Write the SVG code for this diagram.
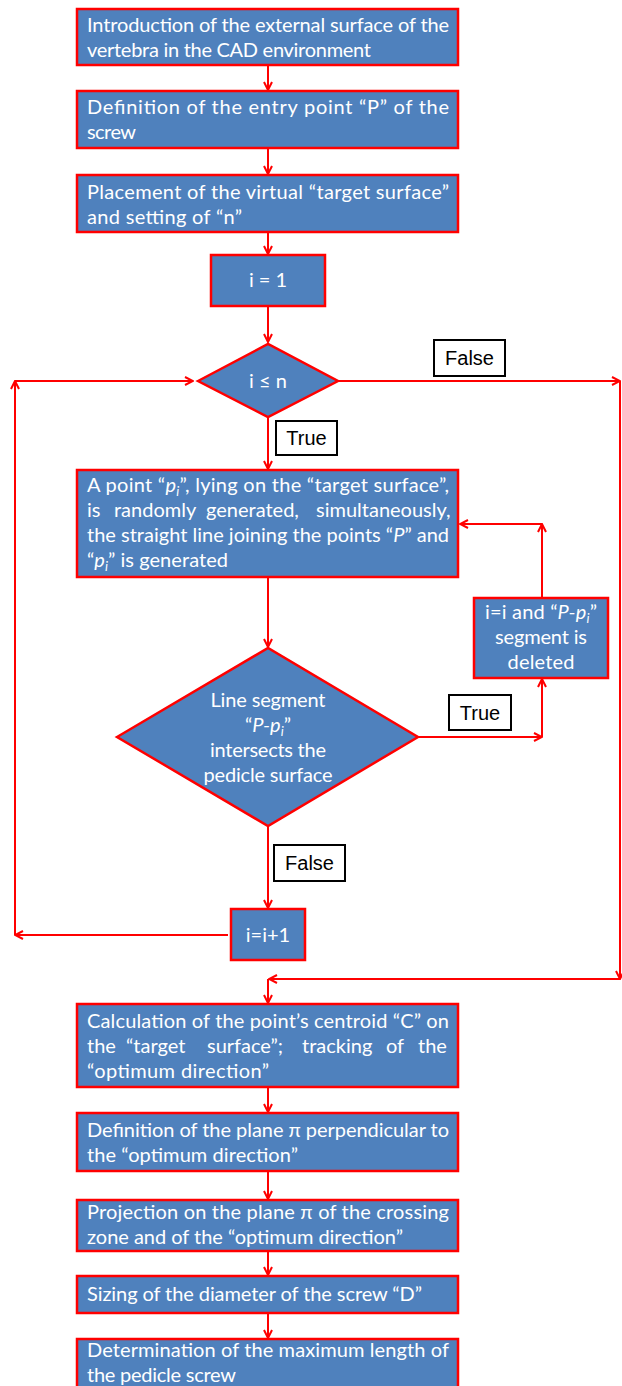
<svg xmlns="http://www.w3.org/2000/svg" width="622" height="1386" viewBox="0 0 622 1386">
<style>
.box{fill:#4F81BD;stroke:#FF0000;stroke-width:2.5}
.lbl{fill:#FFFFFF;stroke:#000000;stroke-width:2}
.t{font-family:Lato,"Liberation Sans",sans-serif;font-size:20px;fill:#FFFFFF}
.c{text-anchor:middle}
.l{font-family:"Liberation Sans",Arial,sans-serif;font-size:20px;fill:#000000;text-anchor:middle}
.con{fill:none;stroke:#FF0000;stroke-width:2}
.it{font-style:italic}
.sub{font-size:13px}
</style>
<defs>
<marker id="ah" viewBox="0 0 10 10" refX="9" refY="5" markerWidth="10" markerHeight="10" markerUnits="userSpaceOnUse" orient="auto">
<path d="M1,1 L9,5 L1,9" fill="none" stroke="#FF0000" stroke-width="2"/>
</marker>
</defs>
<g id="connectors">
<path class="con" d="M268,65 V90" marker-end="url(#ah)"/>
<path class="con" d="M268,148 V174" marker-end="url(#ah)"/>
<path class="con" d="M268,232 V254" marker-end="url(#ah)"/>
<path class="con" d="M268,306 V342" marker-end="url(#ah)"/>
<path class="con" d="M268,417 V469" marker-end="url(#ah)"/>
<path class="con" d="M338,381 H620" marker-end="url(#ah)"/>
<path class="con" d="M620,381 V979" marker-end="url(#ah)"/>
<path class="con" d="M620,979 H269" marker-end="url(#ah)"/>
<path class="con" d="M268,979 V1003" marker-end="url(#ah)"/>
<path class="con" d="M268,577 V647" marker-end="url(#ah)"/>
<path class="con" d="M418,737 H542" marker-end="url(#ah)"/>
<path class="con" d="M542,737 V679" marker-end="url(#ah)"/>
<path class="con" d="M542,598 V524" marker-end="url(#ah)"/>
<path class="con" d="M542,524 H460" marker-end="url(#ah)"/>
<path class="con" d="M268,826 V908" marker-end="url(#ah)"/>
<path class="con" d="M228,935 H15" marker-end="url(#ah)"/>
<path class="con" d="M15,935 V381" marker-end="url(#ah)"/>
<path class="con" d="M15,381 H193" marker-end="url(#ah)"/>
<path class="con" d="M268,1087 V1112" marker-end="url(#ah)"/>
<path class="con" d="M268,1171 V1199" marker-end="url(#ah)"/>
<path class="con" d="M268,1251 V1275" marker-end="url(#ah)"/>
<path class="con" d="M268,1313 V1338" marker-end="url(#ah)"/>
</g>
<g id="lbl-false1"><rect class="lbl" x="434" y="340" width="71" height="36"/><text class="l" x="469.5" y="365">False</text></g>
<g id="lbl-true1"><rect class="lbl" x="276" y="421" width="61" height="34"/><text class="l" x="306.5" y="445">True</text></g>
<g id="lbl-true2"><rect class="lbl" x="449" y="695" width="62" height="35"/><text class="l" x="480" y="720">True</text></g>
<g id="lbl-false2"><rect class="lbl" x="274" y="845" width="71" height="36"/><text class="l" x="309.5" y="870">False</text></g>
<g id="n1"><rect class="box" x="77" y="9" width="381" height="56"/>
<text class="t" x="87" y="32" textLength="362">Introduction of the external surface of the</text>
<text class="t" x="87" y="57" textLength="284">vertebra in the CAD environment</text></g>
<g id="n2"><rect class="box" x="77" y="91" width="381" height="57"/>
<text class="t" x="87" y="114" textLength="362">Definition of the entry point “P” of the</text>
<text class="t" x="87" y="139" textLength="49">screw</text></g>
<g id="n3"><rect class="box" x="77" y="175" width="381" height="57"/>
<text class="t" x="87" y="199" textLength="362">Placement of the virtual “target surface”</text>
<text class="t" x="87" y="224" textLength="155">and setting of “n”</text></g>
<g id="n4"><rect class="box" x="211" y="255" width="114" height="51"/>
<text class="t c" x="268" y="287">i = 1</text></g>
<g id="n5"><polygon class="box" points="198,381 268,344 338,381 268,417"/>
<text class="t c" x="268" y="388">i ≤ n</text></g>
<g id="n6"><rect class="box" x="77" y="470" width="381" height="107"/>
<text class="t" x="87" y="492" textLength="362">A point “<tspan class="it">p</tspan><tspan class="sub it" dy="4">i</tspan><tspan dy="-4">”, lying on the “target surface”,</tspan></text>
<text class="t" y="517"><tspan x="87">is</tspan> <tspan x="114">randomly</tspan> <tspan x="206">generated,</tspan> <tspan x="316">simultaneously,</tspan></text>
<text class="t" x="87" y="542" textLength="362">the straight line joining the points “<tspan class="it">P</tspan>” and</text>
<text class="t" x="87" y="567" textLength="141">“<tspan class="it">p</tspan><tspan class="sub it" dy="4">i</tspan><tspan dy="-4">” is generated</tspan></text></g>
<g id="n7"><rect class="box" x="474" y="598" width="134" height="80"/>
<text class="t c" x="541" y="619" textLength="112">i=i and “<tspan class="it">P-p</tspan><tspan class="sub it" dy="4">i</tspan><tspan dy="-4">”</tspan></text>
<text class="t c" x="541" y="644" textLength="92">segment is</text>
<text class="t c" x="541" y="669" textLength="67">deleted</text></g>
<g id="n8"><polygon class="box" points="117,737 268,648 418,737 268,826"/>
<text class="t c" x="268" y="707" textLength="115">Line segment</text>
<text class="t c" x="268" y="732">“<tspan class="it">P-p</tspan><tspan class="sub it" dy="4">i</tspan><tspan dy="-4">”</tspan></text>
<text class="t c" x="268" y="757" textLength="116">intersects the</text>
<text class="t c" x="268" y="782" textLength="129">pedicle surface</text></g>
<g id="n9"><rect class="box" x="231" y="909" width="74" height="51"/>
<text class="t c" x="268" y="942">i=i+1</text></g>
<g id="n10"><rect class="box" x="77" y="1004" width="381" height="83"/>
<text class="t" x="87" y="1028" textLength="362">Calculation of the point’s centroid “C” on</text>
<text class="t" y="1053"><tspan x="87">the</tspan> <tspan x="126">“target</tspan> <tspan x="207">surface”;</tspan> <tspan x="302">tracking</tspan> <tspan x="386">of</tspan> <tspan x="418">the</tspan></text>
<text class="t" x="87" y="1078" textLength="182">“optimum direction”</text></g>
<g id="n11"><rect class="box" x="77" y="1113" width="381" height="58"/>
<text class="t" x="87" y="1137" textLength="362">Definition of the plane π perpendicular to</text>
<text class="t" x="87" y="1162" textLength="211">the “optimum direction”</text></g>
<g id="n12"><rect class="box" x="77" y="1200" width="381" height="51"/>
<text class="t" x="87" y="1219" textLength="362">Projection on the plane π of the crossing</text>
<text class="t" x="87" y="1244" textLength="316">zone and of the “optimum direction”</text></g>
<g id="n13"><rect class="box" x="77" y="1276" width="381" height="37"/>
<text class="t" x="87" y="1301" textLength="335">Sizing of the diameter of the screw “D”</text></g>
<g id="n14"><rect class="box" x="77" y="1339" width="381" height="57"/>
<text class="t" x="87" y="1357" textLength="362">Determination of the maximum length of</text>
<text class="t" x="87" y="1382" textLength="149">the pedicle screw</text></g>
</svg>
